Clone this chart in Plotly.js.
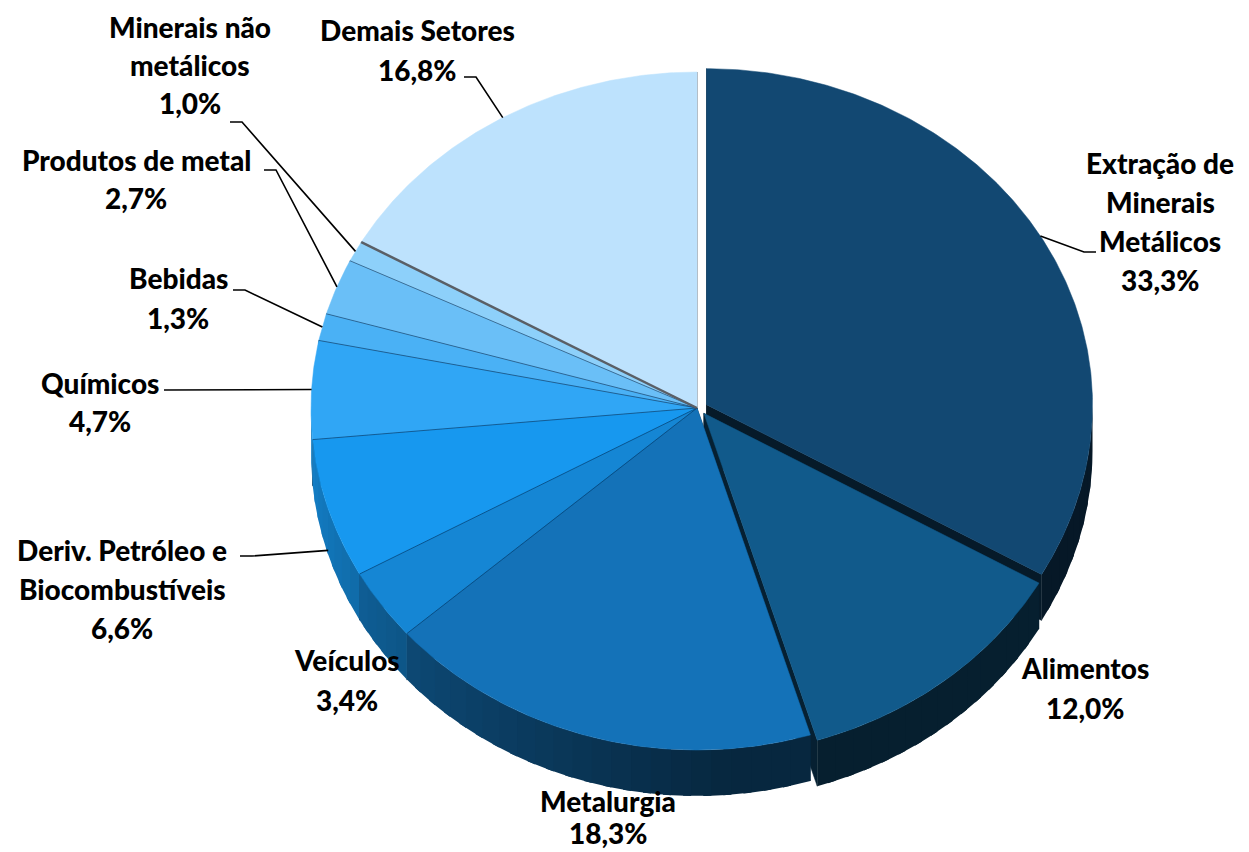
<!DOCTYPE html>
<html><head><meta charset="utf-8">
<script src="https://cdn.plot.ly/plotly-3.0.1.min.js"></script>
<style>html,body{margin:0;padding:0;background:#fff;} #chart{width:1249px;height:852px;}</style>
</head><body><div id="chart"></div>
<script>
// ---- data ----
const categories = ["Extração de<br>Minerais<br>Metálicos", "Alimentos", "Metalurgia", "Veículos",
  "Deriv. Petróleo e<br>Biocombustíveis", "Químicos", "Bebidas", "Produtos de metal",
  "Minerais não<br>metálicos", "Demais Setores"];
const shares = [33.3, 12.0, 18.3, 3.4, 6.6, 4.7, 1.3, 2.7, 1.0, 16.8];

// ---- styles / layout settings ----
const sliceColors = ["#124872", "#115a8b", "#1472b8", "#1586d4", "#1798ef", "#30a6f5",
  "#4ab1f5", "#6abff7", "#8dd0fa", "#bde2fd"];
const explodePx = [11, 11, 0, 0, 0, 0, 0, 0, 0, 0];
const G = {cx: 697, cy: 408, rx: 386, ryT: 336, ryB: 342, depth: 46};
// label block: centre x, first line y, line gap
const labelPos = [[1160,163,39],[1085,668,40],[608,801,32],[347,660,40],[122,550,39],[100,383,38],[178,278,40],[136,160,38],[190,27,38],[417,30,40]];
const leaderStart = [[1096,252], null, null, null, [240,556], [164,390], [233,290], [264,170], [230,122], [464,77]];
const FONT = {family: "Lato, 'Open Sans', sans-serif", size: 28, color: "#000", weight: 900};

// ---- geometry from data ----
const total = shares.reduce((a, b) => a + b, 0);
let cum = 0;
const ang = shares.map(v => { const a = cum / total * 2 * Math.PI; cum += v; return [a, cum / total * 2 * Math.PI]; });
function offset(i) {
  const m = (ang[i][0] + ang[i][1]) / 2, e = explodePx[i];
  const ry = Math.cos(m) > 0 ? G.ryT : G.ryB;
  return [e * Math.sin(m), -e * Math.cos(m) * ry / G.rx * 0.7];
}
function pt(t, off, dz) {
  const c = Math.cos(t), s = Math.sin(t);
  const ry = c > 0 ? G.ryT : G.ryB;
  return [G.cx + off[0] + G.rx * s, G.cy + off[1] - ry * c + (dz || 0)];
}
function arc(a, b, off, dz) {
  const n = Math.max(2, Math.ceil((b - a) / (Math.PI / 360)));
  const out = [];
  for (let k = 0; k <= n; k++) out.push(pt(a + (b - a) * k / n, off, dz));
  return out;
}
function shade(hex, k) {
  const r = parseInt(hex.slice(1, 3), 16), g = parseInt(hex.slice(3, 5), 16), b = parseInt(hex.slice(5, 7), 16);
  const f = 1 - k;
  return `rgb(${Math.round(r * f)},${Math.round(g * f)},${Math.round(b * f)})`;
}
function poly(points, color, lw, lineColor) {
  return {type: "scatter", mode: "lines", x: points.map(p => p[0]), y: points.map(p => p[1]),
    fill: "toself", fillcolor: color, line: {color: lineColor || color, width: lw || 0},
    hoverinfo: "skip", showlegend: false};
}

const traces = [];
// radial walls
shares.forEach((v, i) => {
  const off = offset(i);
  const c = [G.cx + off[0], G.cy + off[1]];
  ang[i].forEach(t => {
    const e = pt(t, off, 0);
    traces.push(poly([c, e, [e[0], e[1] + G.depth], [c[0], c[1] + G.depth], c], shade(sliceColors[i], 0.64), 0.5));
  });
});
// outer walls (front half), shaded in small overlapping steps
const step = 3 * Math.PI / 180, overlap = 1.2 * Math.PI / 180;
shares.forEach((v, i) => {
  const off = offset(i);
  const lo = Math.max(ang[i][0], Math.PI / 2), hi = Math.min(ang[i][1], 3 * Math.PI / 2);
  if (lo >= hi) return;
  const n = Math.max(1, Math.ceil((hi - lo) / step));
  for (let k = 0; k < n; k++) {
    const a = lo + (hi - lo) * k / n;
    const b = Math.min(hi, lo + (hi - lo) * (k + 1) / n + overlap);
    const mid = (lo + (hi - lo) * (k + 0.5) / n) * 180 / Math.PI;
    const kk = Math.min(0.66, Math.max(0.18, 0.22 + (255 - mid) * 0.0055));
    const top = arc(a, b, off, 0), bot = arc(a, b, off, G.depth).reverse();
    traces.push(poly(top.concat(bot), shade(sliceColors[i], kk)));
  }
});
// top faces
shares.forEach((v, i) => {
  const off = offset(i);
  const c = [G.cx + off[0], G.cy + off[1]];
  traces.push(poly([c].concat(arc(ang[i][0], ang[i][1], off, 0), [c]), sliceColors[i], 0.5));
});
// thin boundary lines between touching slices
shares.forEach((v, i) => {
  if (explodePx[i] > 0) return;
  const prev = (i + shares.length - 1) % shares.length;
  if (explodePx[prev] > 0) return;
  const off = offset(i);
  const e = pt(ang[i][0], off, 0);
  traces.push({type: "scatter", mode: "lines", x: [G.cx + off[0], e[0]], y: [G.cy + off[1], e[1]],
    line: {color: "rgba(0,40,80,0.55)", width: 1}, hoverinfo: "skip", showlegend: false});
});
// darker edge at the Demais Setores boundary
(function () {
  const i = shares.length - 1;
  const e = pt(ang[i][0], offset(i), 0);
  traces.push({type: "scatter", mode: "lines", x: [G.cx, e[0]], y: [G.cy, e[1]],
    line: {color: "#5a5f66", width: 2.5}, hoverinfo: "skip", showlegend: false});
})();
// leader lines
shares.forEach((v, i) => {
  const s = leaderStart[i];
  if (!s) return;
  const m = (ang[i][0] + ang[i][1]) / 2;
  const e = pt(m, offset(i), Math.cos(m) < 0 ? G.depth * 0.9 : 0);
  const dir = e[0] > s[0] ? 1 : -1;
  traces.push({type: "scatter", mode: "lines", x: [s[0], s[0] + dir * 12, e[0]], y: [s[1], s[1], e[1]],
    line: {color: "#000", width: 1.6}, hoverinfo: "skip", showlegend: false});
});

// labels
const annotations = [];
shares.forEach((v, i) => {
  const lines = categories[i].split("<br>").concat([v.toFixed(1).replace(".", ",") + "%"]);
  lines.forEach((t, j) => {
    annotations.push({x: labelPos[i][0], y: labelPos[i][1] + j * labelPos[i][2], xref: "x", yref: "y",
      text: t, showarrow: false, xanchor: "center", yanchor: "middle", borderpad: 0, font: FONT});
  });
});

const layout = {
  width: 1249, height: 852, margin: {l: 0, r: 0, t: 0, b: 0},
  paper_bgcolor: "#fff", plot_bgcolor: "#fff", showlegend: false, hovermode: false,
  xaxis: {range: [0, 1249], visible: false, fixedrange: true},
  yaxis: {range: [852, 0], visible: false, fixedrange: true},
  annotations: annotations
};
Plotly.newPlot("chart", traces, layout, {displayModeBar: false, staticPlot: true});
</script>
</body></html>
